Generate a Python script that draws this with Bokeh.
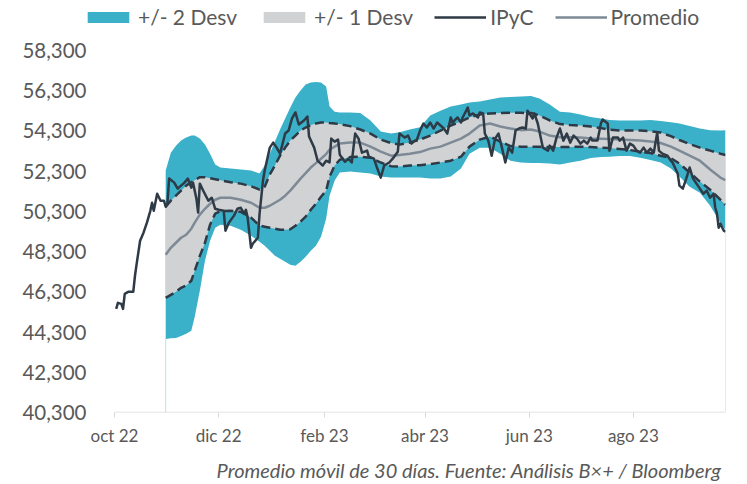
import pandas as pd
from bokeh.plotting import figure
from bokeh.models import (ColumnDataSource, Legend, LegendItem, FixedTicker,
                          CustomJSTickFormatter, NumeralTickFormatter, Range1d)
from bokeh.embed import file_html
from bokeh.resources import INLINE

# ---------------- data ----------------
ipyc_fechas = [
    "2022-10-02", "2022-10-03", "2022-10-05", "2022-10-06", "2022-10-07", "2022-10-09", "2022-10-12", "2022-10-13", "2022-10-14", "2022-10-16",
    "2022-10-18", "2022-10-20", "2022-10-22", "2022-10-23", "2022-10-24", "2022-10-26", "2022-10-28", "2022-10-30", "2022-10-31", "2022-11-01",
    "2022-11-02", "2022-11-05", "2022-11-07", "2022-11-09", "2022-11-11", "2022-11-13", "2022-11-15", "2022-11-16", "2022-11-18", "2022-11-19",
    "2022-11-20", "2022-11-22", "2022-11-25", "2022-11-27", "2022-11-29", "2022-12-01", "2022-12-04", "2022-12-05", "2022-12-07", "2022-12-10",
    "2022-12-12", "2022-12-14", "2022-12-16", "2022-12-17", "2022-12-18", "2022-12-20", "2022-12-21", "2022-12-24", "2022-12-25", "2022-12-27",
    "2022-12-28", "2022-12-31", "2023-01-02", "2023-01-04", "2023-01-06", "2023-01-09", "2023-01-11", "2023-01-13", "2023-01-15", "2023-01-17",
    "2023-01-20", "2023-01-22", "2023-01-23", "2023-01-26", "2023-01-28", "2023-01-31", "2023-02-02", "2023-02-04", "2023-02-05", "2023-02-07",
    "2023-02-09", "2023-02-10", "2023-02-13", "2023-02-15", "2023-02-17", "2023-02-19", "2023-02-21", "2023-02-23", "2023-02-26", "2023-02-27",
    "2023-03-02", "2023-03-04", "2023-03-06", "2023-03-08", "2023-03-11", "2023-03-13", "2023-03-16", "2023-03-17", "2023-03-20", "2023-03-22",
    "2023-03-24", "2023-03-26", "2023-03-27", "2023-03-29", "2023-03-31", "2023-04-02", "2023-04-04", "2023-04-06", "2023-04-08", "2023-04-10",
    "2023-04-12", "2023-04-14", "2023-04-16", "2023-04-17", "2023-04-20", "2023-04-22", "2023-04-23", "2023-04-26", "2023-04-27", "2023-04-29",
    "2023-05-02", "2023-05-03", "2023-05-05", "2023-05-06", "2023-05-08", "2023-05-10", "2023-05-12", "2023-05-14", "2023-05-16", "2023-05-18",
    "2023-05-20", "2023-05-22", "2023-05-24", "2023-05-26", "2023-05-28", "2023-05-30", "2023-05-31", "2023-06-03", "2023-06-04", "2023-06-06",
    "2023-06-09", "2023-06-12", "2023-06-13", "2023-06-15", "2023-06-17", "2023-06-19", "2023-06-21", "2023-06-23", "2023-06-25", "2023-06-27",
    "2023-06-29", "2023-07-01", "2023-07-03", "2023-07-05", "2023-07-07", "2023-07-08", "2023-07-11", "2023-07-13", "2023-07-14", "2023-07-17",
    "2023-07-18", "2023-07-20", "2023-07-23", "2023-07-24", "2023-07-26", "2023-07-28", "2023-07-30", "2023-08-01", "2023-08-03", "2023-08-05",
    "2023-08-07", "2023-08-09", "2023-08-11", "2023-08-13", "2023-08-15", "2023-08-16", "2023-08-18", "2023-08-21", "2023-08-23", "2023-08-24",
    "2023-08-27", "2023-08-28", "2023-08-30", "2023-09-01", "2023-09-03", "2023-09-05", "2023-09-07", "2023-09-09", "2023-09-11", "2023-09-13",
    "2023-09-15", "2023-09-17", "2023-09-18", "2023-09-19", "2023-09-20", "2023-09-21", "2023-09-23", "2023-09-24",
]
ipyc_valores = [
    45450, 45750, 45700, 45450, 46200, 46300, 46300, 47100, 47700, 48840,
    49240, 49740, 50330, 50730, 50330, 51180, 50830, 50830, 50530, 50680,
    51930, 51730, 51430, 51580, 51730, 51930, 51480, 51730, 50930, 50240,
    51680, 51330, 50830, 50980, 50430, 50380, 50330, 49340, 49740, 50090,
    50430, 50480, 50190, 50380, 49990, 48490, 48690, 48990, 50190, 51830,
    52330, 53470, 53720, 53470, 53170, 54170, 54320, 54920, 55220, 54620,
    54820, 55020, 54020, 53470, 52820, 52580, 52820, 52730, 53920, 53770,
    53870, 53120, 52770, 52920, 52730, 54170, 53920, 53220, 53320, 53020,
    52920, 52430, 51980, 52580, 52730, 52920, 53270, 54170, 53970, 54070,
    53670, 53820, 53820, 54320, 54670, 54470, 54720, 54420, 54720, 54570,
    54420, 54170, 54970, 54720, 54970, 54720, 54970, 55460, 55070, 55170,
    54970, 55220, 55170, 54170, 53820, 53070, 53920, 54170, 53470, 52730,
    53470, 53220, 54320, 54420, 54470, 54420, 55310, 54920, 55170, 54670,
    53470, 53320, 53570, 53320, 53970, 54420, 53820, 54170, 53720, 54070,
    53920, 53670, 53820, 53670, 53970, 53820, 53820, 54670, 54870, 54670,
    53320, 53970, 53970, 53820, 53970, 53320, 53670, 53570, 53320, 53220,
    53470, 53220, 53420, 53220, 54220, 53320, 53170, 53070, 52820, 52730,
    52180, 51580, 51430, 51930, 52480, 51930, 51680, 51430, 51180, 51330,
    50980, 51180, 50480, 50190, 49490, 49690, 49340, 49290,
]

banda_fechas = [
    "2022-10-31", "2022-11-03", "2022-11-06", "2022-11-09", "2022-11-12", "2022-11-15", "2022-11-17", "2022-11-20", "2022-11-23", "2022-11-26",
    "2022-11-29", "2022-12-02", "2022-12-08", "2022-12-14", "2022-12-20", "2022-12-25", "2022-12-28", "2022-12-31", "2023-01-03", "2023-01-06",
    "2023-01-09", "2023-01-12", "2023-01-15", "2023-01-18", "2023-01-21", "2023-01-24", "2023-01-27", "2023-01-30", "2023-02-02", "2023-02-04",
    "2023-02-07", "2023-02-10", "2023-02-16", "2023-02-22", "2023-02-28", "2023-03-06", "2023-03-12", "2023-03-17", "2023-03-23", "2023-03-29",
    "2023-04-04", "2023-04-10", "2023-04-16", "2023-04-22", "2023-04-27", "2023-05-03", "2023-05-09", "2023-05-15", "2023-05-21", "2023-05-27",
    "2023-06-02", "2023-06-07", "2023-06-13", "2023-06-19", "2023-06-25", "2023-07-01", "2023-07-07", "2023-07-13", "2023-07-18", "2023-07-24",
    "2023-07-30", "2023-08-05", "2023-08-11", "2023-08-17", "2023-08-23", "2023-08-28", "2023-09-03", "2023-09-09", "2023-09-15", "2023-09-21",
    "2023-09-24",
]
sup_2desv = [
    52330, 53220, 53570, 53820, 53970, 54070, 54070, 53920, 53620, 53170,
    52630, 52480, 52430, 52380, 52330, 52180, 52580, 53170, 53770, 54370,
    54920, 55460, 55960, 56310, 56610, 56710, 56730, 56710, 56510, 55510,
    55260, 55220, 55220, 55190, 54820, 54270, 54170, 54230, 54370, 54480,
    55070, 55310, 55510, 55610, 55710, 55760, 55860, 55960, 55990, 56010,
    56040, 55910, 55610, 55260, 55220, 55120, 54990, 54920, 54840, 54820,
    54820, 54820, 54840, 54790, 54730, 54670, 54540, 54420, 54340, 54320,
    54340,
]
sup_1desv = [
    50530, 50830, 51080, 51330, 51580, 51750, 51850, 52000, 52000, 51950,
    51900, 51850, 51750, 51680, 51550, 51380, 51530, 52130, 52580, 53070,
    53470, 53820, 54070, 54320, 54470, 54590, 54670, 54720, 54720, 54690,
    54670, 54640, 54540, 54370, 54170, 53870, 53700, 53620, 53720, 53870,
    54070, 54320, 54570, 54770, 54970, 55120, 55170, 55190, 55200, 55200,
    55190, 55070, 54820, 54640, 54590, 54570, 54520, 54440, 54370, 54320,
    54320, 54320, 54290, 54220, 54040, 53850, 53650, 53470, 53320, 53170,
    53100,
]
promedio = [
    48140, 48490, 48740, 48990, 49140, 49440, 49740, 50140, 50430, 50680,
    50880, 50980, 50980, 50880, 50730, 50480, 50480, 50580, 50730, 50880,
    51080, 51330, 51630, 51930, 52200, 52480, 52700, 52920, 53150, 53370,
    53520, 53670, 53720, 53720, 53520, 53270, 53070, 53100, 53170, 53250,
    53420, 53520, 53720, 53920, 54170, 54570, 54670, 54520, 54420, 54340,
    54370, 54270, 54070, 53990, 53990, 53970, 53920, 53910, 53900, 53870,
    53850, 53820, 53770, 53700, 53520, 53320, 53070, 52820, 52380, 51980,
    51850,
]
inf_1desv = [
    46000, 46150, 46300, 46500, 46620, 46850, 47350, 48090, 48740, 49640,
    50190, 50310, 50330, 50280, 49990, 49590, 49540, 49490, 49440, 49390,
    49390, 49410, 49590, 49790, 50040, 50380, 50680, 51030, 51330, 52030,
    52580, 52870, 53000, 53020, 52970, 52730, 52550, 52530, 52580, 52600,
    52650, 52730, 52820, 53020, 53520, 53870, 54020, 53770, 53550, 53520,
    53520, 53520, 53500, 53500, 53500, 53520, 53500, 53470, 53450, 53400,
    53350, 53270, 53200, 53070, 52950, 52680, 52230, 51780, 51380, 50880,
    50630,
]
inf_2desv = [
    43960, 43990, 44010, 44110, 44210, 44360, 45060, 46350, 47840, 48840,
    49490, 49640, 49590, 49390, 49090, 48790, 48590, 48340, 48090, 47940,
    47790, 47650, 47600, 47790, 48040, 48340, 48590, 49040, 49940, 51080,
    51830, 52230, 52280, 52230, 52180, 52030, 51980, 51980, 51980, 51980,
    51930, 51930, 52030, 52430, 53170, 53470, 53470, 53170, 52820, 52730,
    52700, 52700, 52680, 52630, 52730, 52820, 52950, 53000, 53020, 53050,
    53050, 52970, 52850, 52730, 52430, 52030, 51530, 51230, 50580, 49740,
    49390,
]

y_ticks = [40300, 42300, 44300, 46300, 48300, 50300, 52300, 54300, 56300, 58300]
x_tick_fechas = ["2022-10-01", "2022-12-01", "2023-02-01", "2023-04-01", "2023-06-01", "2023-08-01"]
x_inicio, x_fin = "2022-10-01", "2023-09-24"
meses = ["ene", "feb", "mar", "abr", "may", "jun", "jul", "ago", "sep", "oct", "nov", "dic"]

leyenda = ["+/- 2 Desv", "+/- 1 Desv", "IPyC", "Promedio"]
nota = "Promedio móvil de 30 días. Fuente: Análisis B×+ / Bloomberg"

# ---------------- style / layout ----------------
FONT = "Lato"
TXT = "#595959"
TEAL = "#3AB0C9"
GRIS_BANDA = "#D1D2D4"
OSCURO = "#2E3A46"
GRIS_LINEA = "#7D8A96"
EJE = "#D9D9D9"

W, H = 747, 484
AX_L, AX_R, AX_T, AX_B = 114, 725, 50, 412      # where the axes sit on the page
FR_L, FR_T = 74, 0                               # plot frame extended so the legend fits inside it

t0, t1 = pd.Timestamp(x_inicio), pd.Timestamp(x_fin)
x_start = t0 - (t1 - t0) * (AX_L - FR_L) / (AX_R - AX_L)
y_lo, y_hi = y_ticks[0], y_ticks[-1]
y_end = y_hi + (y_hi - y_lo) * (AX_T - FR_T) / (AX_B - AX_T)

bx = pd.to_datetime(banda_fechas)
banda = ColumnDataSource(dict(x=bx, s2=sup_2desv, s1=sup_1desv, m=promedio,
                              i1=inf_1desv, i2=inf_2desv))
serie = ColumnDataSource(dict(x=pd.to_datetime(ipyc_fechas), y=ipyc_valores))

p = figure(width=W, height=H, x_axis_type="datetime",
           x_range=Range1d(x_start, t1), y_range=Range1d(y_lo, y_end),
           output_backend="svg", toolbar_location=None,
           min_border_left=FR_L, min_border_right=W - AX_R,
           min_border_top=FR_T, min_border_bottom=H - AX_B)

p.xgrid.grid_line_color = None
p.ygrid.grid_line_color = None
p.outline_line_color = None
p.background_fill_color = "white"
p.border_fill_color = "white"

# x axis baseline (only over the dated span)
p.segment(x0=[t0], x1=[t1], y0=[y_lo], y1=[y_lo], line_color=EJE, line_width=1.5)

# thin edges of the stacked areas down to the baseline
p.segment(x0=[bx[0], bx[-1]], x1=[bx[0], bx[-1]],
          y0=[inf_2desv[0], inf_2desv[-1]], y1=[y_lo, y_lo],
          line_color="#BFE2EB", line_width=1)

r2 = p.varea(x="x", y1="i2", y2="s2", source=banda, fill_color=TEAL, fill_alpha=1)
r1 = p.varea(x="x", y1="i1", y2="s1", source=banda, fill_color=GRIS_BANDA, fill_alpha=1)
p.line(x="x", y="s1", source=banda, line_color=OSCURO, line_width=2.5, line_dash="9 5")
p.line(x="x", y="i1", source=banda, line_color=OSCURO, line_width=2.5, line_dash="9 5")
rm = p.line(x="x", y="m", source=banda, line_color=GRIS_LINEA, line_width=2.5)
ri = p.line(x="x", y="y", source=serie, line_color=OSCURO, line_width=2.5, line_join="round")

# axes
xa = p.xaxis[0]
xa.ticker = FixedTicker(ticks=[pd.Timestamp(d).value / 1e6 for d in x_tick_fechas])
xa.formatter = CustomJSTickFormatter(args=dict(meses=meses), code="""
    const d = new Date(tick);
    return meses[d.getUTCMonth()] + ' ' + String(d.getUTCFullYear()).slice(2);
""")
xa.axis_line_color = None
xa.major_tick_line_color = EJE
xa.major_tick_out = 5
xa.major_tick_in = 0
xa.minor_tick_line_color = None
xa.major_label_text_font = FONT
xa.major_label_text_font_size = "17px"
xa.major_label_text_color = TXT
xa.major_label_standoff = 7
# source note as the axis title; em-space indent moves the centred text to the right
xa.axis_label = "\u2003" * 10 + nota
xa.axis_label_align = "center"
xa.axis_label_standoff = 9
xa.axis_label_text_font = FONT
xa.axis_label_text_font_style = "italic"
xa.axis_label_text_font_size = "20px"
xa.axis_label_text_color = TXT

ya = p.yaxis[0]
ya.ticker = FixedTicker(ticks=y_ticks)
ya.formatter = NumeralTickFormatter(format="0,0")
ya.axis_line_color = None
ya.major_tick_line_color = None
ya.minor_tick_line_color = None
ya.major_label_text_font = FONT
ya.major_label_text_font_size = "20.5px"
ya.major_label_text_color = TXT
ya.major_label_standoff = -(AX_L - FR_L) + 22

legend = Legend(items=[LegendItem(label=leyenda[0], renderers=[r2]),
                       LegendItem(label=leyenda[1], renderers=[r1]),
                       LegendItem(label=leyenda[2], renderers=[ri]),
                       LegendItem(label=leyenda[3], renderers=[rm])],
                orientation="horizontal", location=(8, AX_B - 4 - 25),
                label_text_font=FONT, label_text_font_size="21px", label_text_color=TXT,
                glyph_width=52, glyph_height=14, label_standoff=4, label_height=25,
                spacing=21, padding=0, margin=0, border_line_color=None,
                background_fill_alpha=0)
p.add_layout(legend)

open("out.html", "w").write(file_html(p, INLINE))
